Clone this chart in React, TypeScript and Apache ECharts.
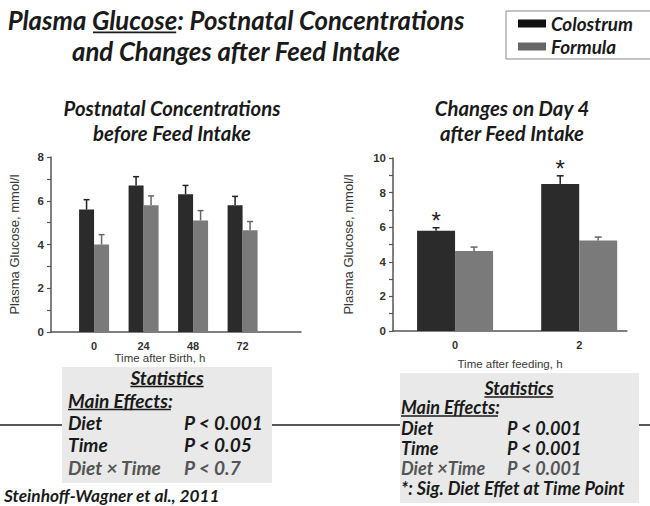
import React, { useEffect, useRef } from 'react';
import * as echarts from 'echarts';

// ---------- data ----------
const seriesNames = ['Colostrum', 'Formula'];

const leftCategories = ['0', '24', '48', '72'];
const leftColostrum = [5.6, 6.7, 6.3, 5.8];
const leftColostrumSE = [0.45, 0.4, 0.4, 0.4];
const leftFormula = [4.0, 5.8, 5.1, 4.65];
const leftFormulaSE = [0.45, 0.42, 0.45, 0.4];

const rightCategories = ['0', '2'];
const rightColostrum = [5.8, 8.5];
const rightColostrumSE = [0.17, 0.47];
const rightFormula = [4.63, 5.23];
const rightFormulaSE = [0.22, 0.2];
const rightSig = [true, true];

const leftStats = [
  ['Diet', 'P < 0.001'],
  ['Time', 'P < 0.05'],
  ['Diet \u00d7 Time', 'P < 0.7'],
];
const rightStats = [
  ['Diet', 'P < 0.001'],
  ['Time', 'P < 0.001'],
  ['Diet \u00d7Time', 'P < 0.001'],
];

const COL = '#2b2b2b';
const FORM = '#7a7a7b';
const FONT = 'Lato, "Open Sans", "DejaVu Sans", sans-serif';
const AX = '"Liberation Sans", Arial, sans-serif';

export default function App() {
  const ref = useRef<HTMLDivElement>(null);
  useEffect(() => {
    const chart = echarts.init(ref.current!, null, { renderer: 'svg' });
    const canvas = document.createElement('canvas');
    const ctx = canvas.getContext('2d')!;
    const w = (t: string, size: number) => {
      ctx.font = `italic bold ${size}px ${FONT}`;
      return ctx.measureText(t).width;
    };
    const fit = (t: string, target: number) => (20 * target) / w(t, 20);

    const titleSz = fit('Plasma Glucose: Postnatal Concentrations', 457);
    const subSz = fit('Postnatal Concentrations', 217);
    const lSz = fit('Main Effects:', 105);
    const rSz = fit('Main Effects:', 99);
    const legSz = fit('Colostrum', 82);
    const citeSz = fit('Steinhoff-Wagner et al., 2011', 216);

    const txt = (text: string, x: number, y: number, size: number, align = 'left', fill = '#1a1a1a') => ({
      type: 'text',
      x,
      y,
      z: 10,
      style: { text, font: `italic bold ${size}px ${FONT}`, fill, align, verticalAlign: 'middle' },
    });
    const uline = (x1: number, x2: number, y: number, lw = 1.6) => ({
      type: 'line',
      z: 10,
      shape: { x1, y1: y, x2, y2: y },
      style: { stroke: '#1a1a1a', lineWidth: lw },
    });

    // title with underlined "Glucose"
    const t1 = 'Plasma Glucose: Postnatal Concentrations';
    const tcx = 236;
    const t1W = w(t1, titleSz);
    const gx1 = tcx - t1W / 2 + w('Plasma ', titleSz);
    const gx2 = gx1 + w('Glucose', titleSz);

    const graphics: any[] = [
      txt(t1, tcx, 20, titleSz, 'center'),
      uline(gx1 + 1, gx2 - 1, 20 + titleSz * 0.48, 1.8),
      txt('and Changes after Feed Intake', tcx, 51, titleSz, 'center'),
      txt('Postnatal Concentrations', 172, 108, subSz, 'center'),
      txt('before Feed Intake', 172, 133, subSz, 'center'),
      txt('Changes on Day 4', 512, 108, subSz, 'center'),
      txt('after Feed Intake', 512, 133, subSz, 'center'),
      // divider line
      { type: 'line', z: 5, shape: { x1: 0, y1: 425, x2: 650, y2: 425 }, style: { stroke: '#222', lineWidth: 1.6 } },
      // boxes
      { type: 'rect', z: 6, shape: { x: 62, y: 367, width: 210, height: 116 }, style: { fill: '#e8e9e8' } },
      { type: 'rect', z: 6, shape: { x: 400, y: 373, width: 239, height: 130 }, style: { fill: '#e8e9e8' } },
    ];

    // left stats
    {
      const sw = w('Statistics', lSz);
      graphics.push(txt('Statistics', 167, 377, lSz, 'center'));
      graphics.push(uline(167 - sw / 2, 167 + sw / 2, 377 + lSz * 0.5));
      const mw = w('Main Effects:', lSz);
      graphics.push(txt('Main Effects:', 68, 400, lSz));
      graphics.push(uline(68, 68 + mw - 2, 400 + lSz * 0.5));
      const ys = [422, 444, 467];
      leftStats.forEach((r, i) => {
        const fill = i === 2 ? '#555' : '#1a1a1a';
        graphics.push(txt(r[0], 68, ys[i], lSz, 'left', fill));
        graphics.push(txt(r[1], 184, ys[i], lSz, 'left', fill));
      });
      graphics.push(txt('Steinhoff-Wagner et al., 2011', 4, 495, citeSz, 'left'));
    }
    // right stats
    {
      const sw = w('Statistics', rSz);
      graphics.push(txt('Statistics', 519, 388, rSz, 'center'));
      graphics.push(uline(519 - sw / 2, 519 + sw / 2, 388 + rSz * 0.5));
      const mw = w('Main Effects:', rSz);
      graphics.push(txt('Main Effects:', 401, 407, rSz));
      graphics.push(uline(401, 401 + mw - 2, 407 + rSz * 0.5));
      const ys = [428, 448, 468];
      rightStats.forEach((r, i) => {
        const fill = i === 2 ? '#555' : '#1a1a1a';
        graphics.push(txt(r[0], 401, ys[i], rSz, 'left', fill));
        graphics.push(txt(r[1], 507, ys[i], rSz, 'left', fill));
      });
      graphics.push(txt('*: Sig. Diet Effet at Time Point', 401, 488, rSz));
    }

    const errRender =
      (offsetPx: number, color: string, capHalf: number, sig?: boolean[]) => (params: any, api: any) => {
        const x = api.value(0);
        const v = api.value(1);
        const se = api.value(2);
        const p0 = api.coord([x, v]);
        const p1 = api.coord([x, v + se]);
        const cx = p0[0] + offsetPx;
        const children: any[] = [
          { type: 'line', shape: { x1: cx, y1: p0[1], x2: cx, y2: p1[1] }, style: { stroke: color, lineWidth: 1.5 } },
          {
            type: 'line',
            shape: { x1: cx - capHalf, y1: p1[1], x2: cx + capHalf, y2: p1[1] },
            style: { stroke: color, lineWidth: 1.5 },
          },
        ];
        if (sig && sig[params.dataIndex]) {
          children.push({
            type: 'text',
            x: cx,
            y: p1[1] - 19,
            style: { text: '*', font: `24px ${AX}`, fill: '#222', align: 'center', verticalAlign: 'top' },
          });
        }
        return { type: 'group', children };
      };

    const yAxisBase = (max: number, nameGap: number, gridIndex: number) => ({
      type: 'value',
      gridIndex,
      min: 0,
      max,
      interval: 1,
      name: 'Plasma Glucose, mmol/l',
      nameLocation: 'middle',
      nameGap,
      nameRotate: 90,
      nameTextStyle: { fontFamily: AX, fontSize: 13, color: '#3a3a3a' },
      axisLine: { show: true, onZero: false, lineStyle: { color: '#555', width: 1.5 } },
      axisTick: { show: true, length: 4, lineStyle: { color: '#555', width: 1.2 } },
      axisLabel: {
        formatter: (v: number) => (v % 2 === 0 ? String(v) : ''),
        fontFamily: AX,
        fontSize: 11.5,
        fontWeight: 'bold',
        color: '#333',
        margin: 7,
      },
      splitLine: { show: false },
    });

    const xAxisBase = (
      cats: string[],
      min: number,
      max: number,
      name: string,
      nameGap: number,
      gridIndex: number,
      pad: number[]
    ) => ({
      type: 'value',
      gridIndex,
      min,
      max,
      name,
      nameLocation: 'middle',
      nameGap,
      nameTextStyle: { fontFamily: AX, fontSize: 11.5, color: '#3a3a3a', padding: pad },
      axisLine: { show: true, onZero: false, lineStyle: { color: '#555', width: 1.5 } },
      axisTick: { show: false },
      axisLabel: {
        customValues: cats.map((_, i) => i),
        formatter: (v: number) => cats[Math.round(v)] ?? '',
        fontFamily: AX,
        fontSize: 11,
        fontWeight: 'bold',
        color: '#333',
        margin: 8,
      },
      splitLine: { show: false },
    });

    const option: any = {
      animation: false,
      backgroundColor: '#fff',
      legend: {
        left: 506,
        top: 11,
        orient: 'vertical',
        icon: 'rect',
        itemWidth: 28,
        itemHeight: 8,
        itemGap: 4,
        selectedMode: false,
        padding: [3, 22, 3, 12],
        borderColor: '#888',
        borderWidth: 1,
        backgroundColor: '#fff',
        textStyle: { fontFamily: FONT, fontStyle: 'italic', fontWeight: 'bold', fontSize: legSz, color: '#1a1a1a' },
        data: [
          { name: seriesNames[0], itemStyle: { color: '#111' } },
          { name: seriesNames[1], itemStyle: { color: '#666' } },
        ],
      },
      grid: [
        { left: 51, right: 650 - 301, top: 157, bottom: 506 - 332 },
        { left: 393, right: 650 - 627, top: 158, bottom: 506 - 331 },
      ],
      xAxis: [
        xAxisBase(leftCategories, -0.87, 4.18, 'Time after Birth, h', 19, 0, [0, 32, 0, 0]),
        xAxisBase(rightCategories, -0.5, 1.385, 'Time after feeding, h', 27, 1, [0, 0, 0, 0]),
      ],
      yAxis: [yAxisBase(8, 30, 0), yAxisBase(10, 38, 1)],
      graphic: graphics,
      series: [
        {
          type: 'bar',
          name: seriesNames[0],
          xAxisIndex: 0,
          yAxisIndex: 0,
          barWidth: 15,
          barGap: '0%',
          itemStyle: { color: COL },
          data: leftColostrum.map((v, i) => [i, v]),
        },
        {
          type: 'bar',
          name: seriesNames[1],
          xAxisIndex: 0,
          yAxisIndex: 0,
          barWidth: 15,
          barGap: '0%',
          itemStyle: { color: FORM },
          data: leftFormula.map((v, i) => [i, v]),
        },
        {
          type: 'bar',
          name: seriesNames[0],
          xAxisIndex: 1,
          yAxisIndex: 1,
          barWidth: 38,
          barGap: '0%',
          itemStyle: { color: COL },
          data: rightColostrum.map((v, i) => [i, v]),
        },
        {
          type: 'bar',
          name: seriesNames[1],
          xAxisIndex: 1,
          yAxisIndex: 1,
          barWidth: 38,
          barGap: '0%',
          itemStyle: { color: FORM },
          data: rightFormula.map((v, i) => [i, v]),
        },
        {
          type: 'custom',
          name: 'errL1',
          xAxisIndex: 0,
          yAxisIndex: 0,
          z: 5,
          renderItem: errRender(-7.5, '#222', 3),
          data: leftColostrum.map((v, i) => [i, v, leftColostrumSE[i]]),
        },
        {
          type: 'custom',
          name: 'errL2',
          xAxisIndex: 0,
          yAxisIndex: 0,
          z: 5,
          renderItem: errRender(7.5, '#666', 3),
          data: leftFormula.map((v, i) => [i, v, leftFormulaSE[i]]),
        },
        {
          type: 'custom',
          name: 'errR1',
          xAxisIndex: 1,
          yAxisIndex: 1,
          z: 5,
          renderItem: errRender(-19, '#222', 3.5, rightSig),
          data: rightColostrum.map((v, i) => [i, v, rightColostrumSE[i]]),
        },
        {
          type: 'custom',
          name: 'errR2',
          xAxisIndex: 1,
          yAxisIndex: 1,
          z: 5,
          renderItem: errRender(19, '#666', 3.5),
          data: rightFormula.map((v, i) => [i, v, rightFormulaSE[i]]),
        },
      ],
    };
    chart.setOption(option);
    return () => chart.dispose();
  }, []);
  return <div ref={ref} style={{ position: 'fixed', left: 0, top: 0, width: 650, height: 506 }} />;
}
